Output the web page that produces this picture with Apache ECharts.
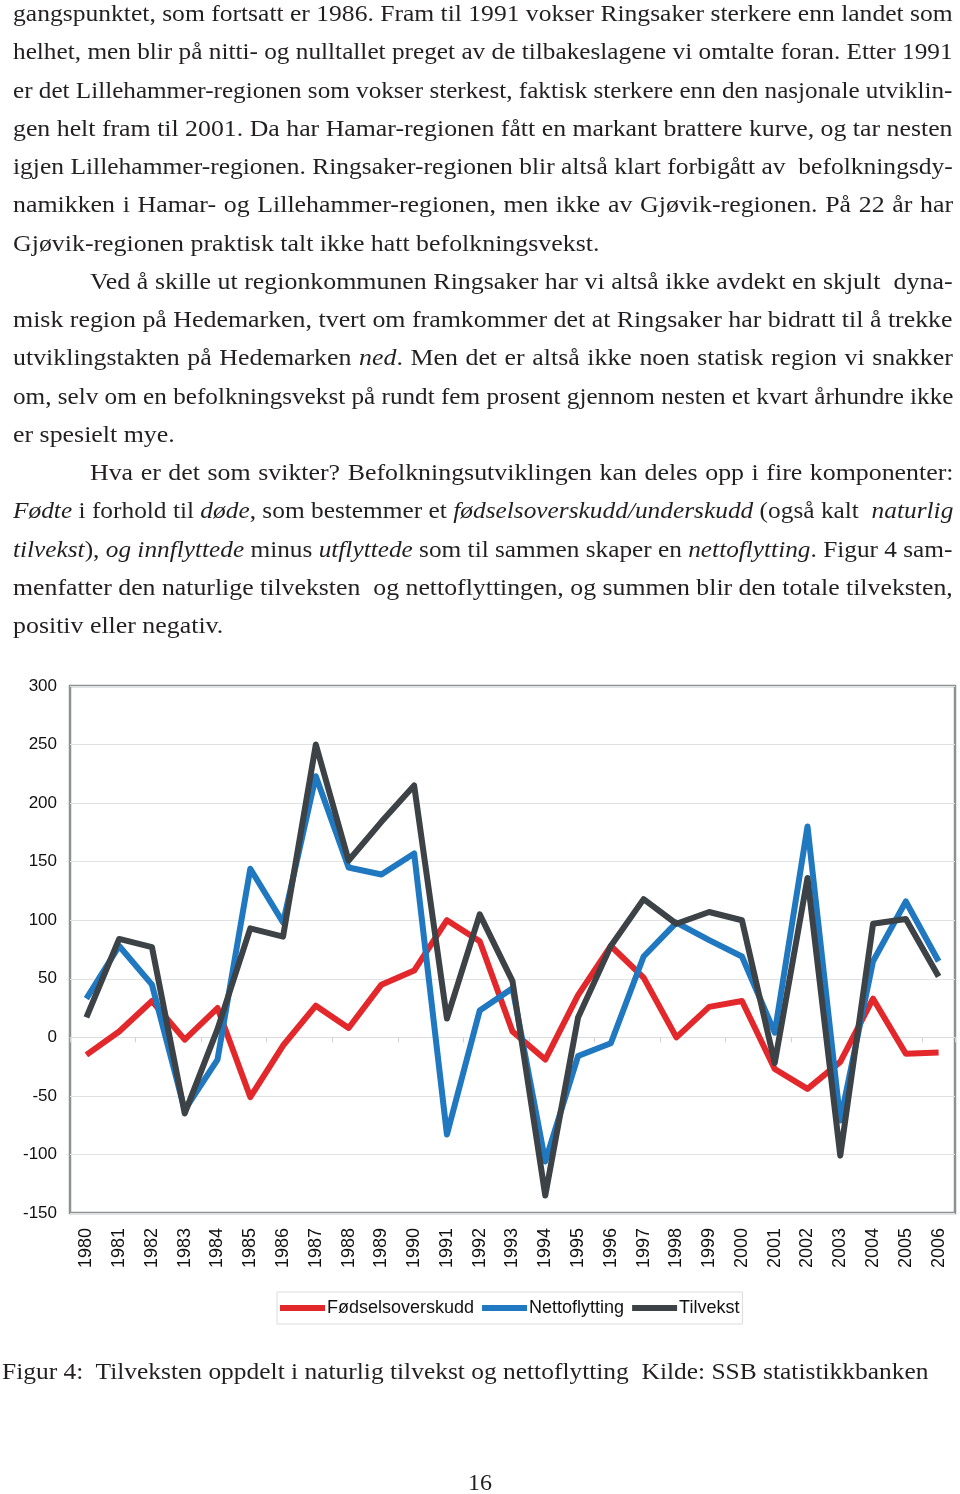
<!DOCTYPE html>
<html>
<head>
<meta charset="utf-8">
<script src="https://cdn.jsdelivr.net/npm/echarts@6/dist/echarts.min.js"></script>
<style>
  html, body { margin: 0; padding: 0; background: #fff; }
  body { width: 960px; height: 1494px; position: relative; overflow: hidden; }
  .ln { position: absolute; font-family: "Liberation Serif", "Times New Roman", serif; font-size: 22.5px; color: #231f20; white-space: nowrap; height: 30px; line-height: 30px; transform-origin: 0 0; }
  #chart { position: absolute; left: 0; top: 0; width: 960px; height: 1494px; }
  #caption { position: absolute; left: 2px; top: 1358px; font-family: "Liberation Serif", serif; font-size: 24px; color: #231f20; white-space: nowrap; transform: scaleX(1.06); transform-origin: 0 0; }
  #page { position: absolute; left: 0; width: 960px; text-align: center; top: 1469px; font-family: "Liberation Serif", serif; font-size: 24px; color: #231f20; }
</style>
</head>
<body>
<div id="chart"></div>
<div id="text"></div>
<div id="caption">Figur 4:&nbsp; Tilveksten oppdelt i naturlig tilvekst og nettoflytting&nbsp; Kilde: SSB statistikkbanken</div>
<div id="page">16</div>
<script>
// ---- data ----
var years = ["1980","1981","1982","1983","1984","1985","1986","1987","1988","1989","1990","1991","1992","1993","1994","1995","1996","1997","1998","1999","2000","2001","2002","2003","2004","2005","2006"];
var fodselsoverskudd = [-15, 5, 31, -2, 25, -51, -7, 27, 8, 45, 57, 100, 82, 5, -19, 36, 78, 51, 0, 26, 31, -27, -44, -21, 33, -14, -13];
var nettoflytting = [33, 78, 45, -62, -19, 144, 98, 223, 145, 139, 157, -83, 23, 42, -106, -16, -5, 69, 98, 83, 69, 4, 180, -71, 65, 116, 65];
var tilvekst = [17, 84, 77, -65, 7, 93, 86, 250, 151, 184, 215, 16, 105, 48, -135, 17, 78, 118, 97, 107, 100, -22, 136, -101, 97, 101, 52];
var yTicks = { min: -150, max: 300, interval: 50 };
var seriesNames = ["Fødselsoverskudd", "Nettoflytting", "Tilvekst"];
var seriesColors = ["#e3282c", "#1f78c0", "#3c4246"];

// ---- body text ----
var lines = [
  ["gangspunktet, som fortsatt er 1986. Fram til 1991 vokser Ringsaker sterkere enn landet som", ""],
  ["helhet, men blir på nitti- og nulltallet preget av de tilbakeslagene vi omtalte foran. Etter 1991", ""],
  ["er det Lillehammer-regionen som vokser sterkest, faktisk sterkere enn den nasjonale utviklin-", ""],
  ["gen helt fram til 2001. Da har Hamar-regionen fått en markant brattere kurve, og tar nesten", ""],
  ["igjen Lillehammer-regionen. Ringsaker-regionen blir altså klart forbigått av&nbsp; befolkningsdy-", ""],
  ["namikken i Hamar- og Lillehammer-regionen, men ikke av Gjøvik-regionen. På 22 år har", ""],
  ["Gjøvik-regionen praktisk talt ikke hatt befolkningsvekst.", "last"],
  ["Ved å skille ut regionkommunen Ringsaker har vi altså ikke avdekt en skjult&nbsp; dyna-", "ind"],
  ["misk region på Hedemarken, tvert om framkommer det at Ringsaker har bidratt til å trekke", ""],
  ["utviklingstakten på Hedemarken <i>ned</i>. Men det er altså ikke noen statisk region vi snakker", ""],
  ["om, selv om en befolkningsvekst på rundt fem prosent gjennom nesten et kvart århundre ikke", ""],
  ["er spesielt mye.", "last"],
  ["Hva er det som svikter? Befolkningsutviklingen kan deles opp i fire komponenter:", "ind"],
  ["<i>Fødte</i> i forhold til <i>døde</i>, som bestemmer et <i>fødselsoverskudd/underskudd</i> (også kalt&nbsp; <i>naturlig</i>", ""],
  ["<i>tilvekst</i>), <i>og innflyttede</i> minus <i>utflyttede</i> som til sammen skaper en <i>nettoflytting</i>. Figur 4 sam-", ""],
  ["menfatter den naturlige tilveksten&nbsp; og nettoflyttingen, og summen blir den totale tilveksten,", ""],
  ["positiv eller negativ.", "last"]
];
var container = document.getElementById("text");
var RIGHT = 953, LEFT = 13, INDENT = 90, SCALE = 1.15;
for (var i = 0; i < lines.length; i++) {
  var d = document.createElement("div");
  d.className = "ln";
  d.innerHTML = lines[i][0];
  var left = lines[i][1] === "ind" ? INDENT : LEFT;
  d.style.left = left + "px";
  d.style.top = (i * 38.25 - 1) + "px";
  container.appendChild(d);
  var w = d.offsetWidth;
  var target = RIGHT - left;
  if (lines[i][1] === "last") {
    d.style.transform = "scaleX(" + SCALE + ")";
  } else {
    var s = Math.min(SCALE, target / w);
    var txt = d.textContent;
    var n = (txt.match(/[ \u00a0]/g) || []).length;
    var extra = (target / s - w) / n;
    d.style.wordSpacing = extra + "px";
    d.style.transform = "scaleX(" + s + ")";
  }
}

// ---- chart ----
var chart = echarts.init(document.getElementById("chart"), null, { renderer: "canvas" });
var series = [fodselsoverskudd, nettoflytting, tilvekst].map(function (d, i) {
  return {
    name: seriesNames[i], type: "line", data: d, symbol: "none",
    lineStyle: { width: 6, color: seriesColors[i], join: "round" },
    itemStyle: { color: seriesColors[i] },
    z: 3 + i
  };
});
chart.setOption({
  animation: false,
  backgroundColor: "#fff",
  grid: { left: 70, right: 5, top: 686, bottom: 281, show: true, borderColor: "#8d9194", borderWidth: 2.5, backgroundColor: "transparent" },
  legend: {
    data: seriesNames.map(function (n) { return { name: n, icon: "rect" }; }),
    left: 277, top: 1292, width: 468, height: 30,
    itemWidth: 45, itemHeight: 6, itemGap: 8,
    padding: [7, 3, 7, 3],
    borderColor: "#dcdcdc", borderWidth: 1,
    textStyle: { fontFamily: "Liberation Sans, Arial, sans-serif", fontSize: 18, color: "#111", padding: [2, 0, 0, -3] }
  },
  xAxis: [{
    type: "category", data: years, boundaryGap: true, position: "bottom",
    axisLine: { show: false, onZero: false },
    axisTick: { show: false },
    axisLabel: { rotate: 90, margin: 15, fontFamily: "Liberation Sans, Arial, sans-serif", fontSize: 18, color: "#111" },
    splitLine: { show: false }
  }, {
    type: "category", data: years, boundaryGap: true, position: "bottom",
    axisLine: { show: true, onZero: true, lineStyle: { color: "#dcdcdc", width: 1 } },
    axisTick: { show: true, length: 5, lineStyle: { color: "#d0d0d0" } },
    axisLabel: { show: false }
  }],
  yAxis: {
    type: "value", min: yTicks.min, max: yTicks.max, interval: yTicks.interval,
    axisLine: { show: false }, axisTick: { show: false },
    axisLabel: { margin: 13, fontFamily: "Liberation Sans, Arial, sans-serif", fontSize: 17, color: "#111" },
    splitLine: { lineStyle: { color: "#e2e2e2", width: 1.2 } }
  },
  series: series
});
</script>
</body>
</html>
